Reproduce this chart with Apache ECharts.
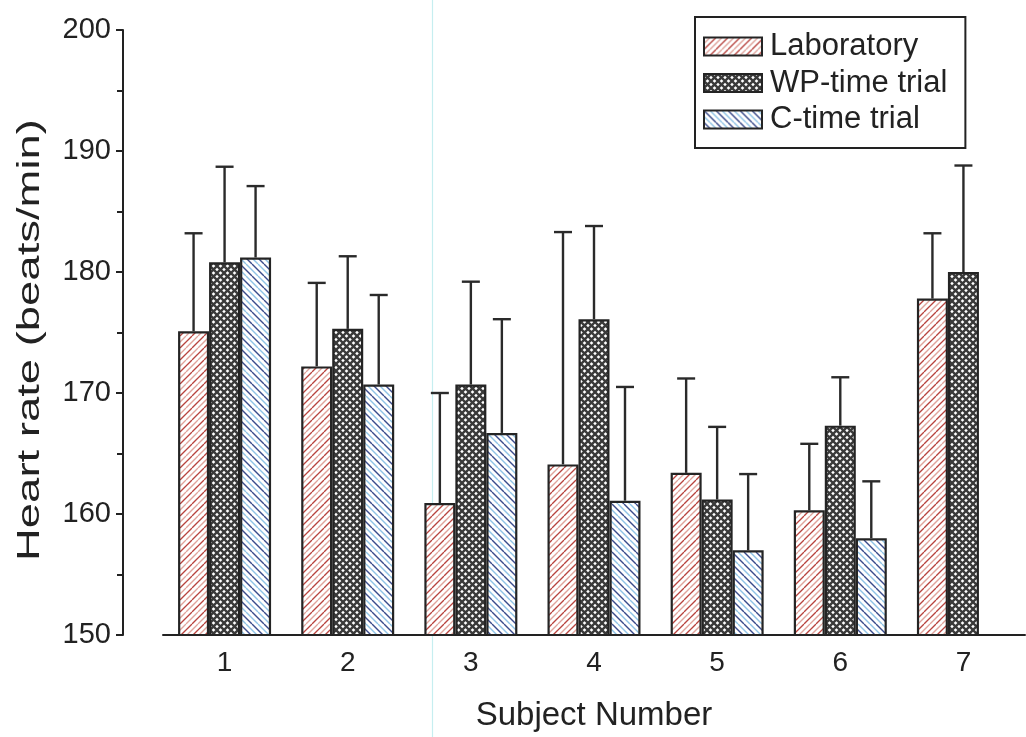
<!DOCTYPE html>
<html>
<head>
<meta charset="utf-8">
<script src="https://cdn.jsdelivr.net/npm/echarts@6/dist/echarts.min.js"></script>
<style>
  html, body { margin: 0; padding: 0; background: #ffffff; }
  #chart { width: 1026px; height: 737px; }
</style>
</head>
<body>
<div id="chart"></div>
<script>
// Subjects and mean heart rate (beats/min) with upper end of the SD whisker
const categories = ['1', '2', '3', '4', '5', '6', '7'];
const seriesNames = ['Laboratory', 'WP-time trial', 'C-time trial'];
const labMean  = [175.1, 172.2, 160.9, 164.1, 163.4, 160.3, 177.8];
const labUpper = [183.2, 179.1, 170.0, 183.3, 171.2, 165.8, 183.2];
const wpMean   = [180.8, 175.3, 170.7, 176.1, 161.2, 167.3, 180.0];
const wpUpper  = [188.7, 181.3, 179.2, 183.8, 167.2, 171.3, 188.8];
const cMean    = [181.2, 170.7, 166.7, 161.1, 157.0, 158.0, null];
const cUpper   = [187.1, 178.1, 176.1, 170.5, 163.3, 162.7, null];
const yTitle = 'Heart rate (beats/min)';
const xTitle = 'Subject Number';

const FONT = '"Liberation Sans", Arial, sans-serif';
const INK = '#222222';
const BAR_W = 31;

// Hatch fills drawn on small tiles
function diagonalTile(colors, spacing, dir, lw) {
  const s = spacing * colors.length;
  const c = document.createElement('canvas');
  c.width = s; c.height = s;
  const g = c.getContext('2d');
  g.fillStyle = '#ffffff';
  g.fillRect(0, 0, s, s);
  g.lineWidth = lw;
  colors.forEach((col, i) => {
    g.strokeStyle = col;
    for (let k = -2; k <= 2; k++) {
      const o = k * s + i * spacing;
      g.beginPath();
      if (dir === '/') { g.moveTo(o, s); g.lineTo(o + s, 0); }
      else { g.moveTo(o, 0); g.lineTo(o + s, s); }
      g.stroke();
    }
  });
  return c;
}
function crossTile(size, col, lw) {
  const c = document.createElement('canvas');
  c.width = size; c.height = size;
  const g = c.getContext('2d');
  g.fillStyle = '#ffffff';
  g.fillRect(0, 0, size, size);
  g.strokeStyle = col;
  g.lineWidth = lw;
  for (let k = -1; k <= 1; k++) {
    g.beginPath(); g.moveTo(k * size, size); g.lineTo(k * size + size, 0); g.stroke();
    g.beginPath(); g.moveTo(k * size, 0); g.lineTo(k * size + size, size); g.stroke();
  }
  return c;
}

const fills = [
  { image: diagonalTile(['#b8443f', '#e0a49c'], 6, '/', 1.3), repeat: 'repeat' },
  { image: crossTile(7, '#3a3a3a', 2.4), repeat: 'repeat' },
  { image: diagonalTile(['#3a4c8c', '#8fc3e6'], 6, '\\', 1.4), repeat: 'repeat' }
];

const means = [labMean, wpMean, cMean];
const uppers = [labUpper, wpUpper, cUpper];

const barSeries = means.map((vals, i) => ({
  name: seriesNames[i],
  type: 'bar',
  data: vals,
  barWidth: BAR_W,
  barGap: '0%',
  itemStyle: { color: fills[i], borderColor: '#242424', borderWidth: 2.2 },
  emphasis: { disabled: true },
  z: 2
}));

// SD whiskers placed over each bar of a group
const errorSeries = means.map((vals, i) => ({
  type: 'custom',
  name: 'sd-' + i,
  silent: true,
  z: 1,
  data: vals.map((m, j) => [j, m, uppers[i][j]]),
  encode: { x: 0, y: [1, 2] },
  renderItem: function (params, api) {
    const m = api.value(1);
    const u = api.value(2);
    if (m == null || u == null || isNaN(m) || isNaN(u)) return null;
    const base = api.coord([api.value(0), m]);
    const top = api.coord([api.value(0), u]);
    const x = base[0] + (i - 1) * BAR_W;
    const half = 9;
    const style = { stroke: '#2a2a2a', lineWidth: 2.4 };
    return {
      type: 'group',
      children: [
        { type: 'line', shape: { x1: x, y1: base[1], x2: x, y2: top[1] }, style: style },
        { type: 'line', shape: { x1: x - half, y1: top[1], x2: x + half, y2: top[1] }, style: style }
      ]
    };
  }
}));

const chart = echarts.init(document.getElementById('chart'), null, { renderer: 'canvas' });
chart.setOption({
  backgroundColor: '#ffffff',
  animation: false,
  textStyle: { fontFamily: FONT, color: INK },
  grid: { left: 163, right: 1, top: 30, bottom: 98 },
  legend: {
    data: seriesNames,
    orient: 'vertical',
    left: 695,
    top: 17,
    padding: [14, 18, 13, 8],
    itemWidth: 58,
    itemHeight: 18,
    itemGap: 5.5,
    icon: 'rect',
    borderColor: INK,
    borderWidth: 2,
    backgroundColor: '#ffffff',
    selectedMode: false,
    textStyle: { fontFamily: FONT, fontSize: 31, color: INK, padding: [0, 0, 0, 3] }
  },
  xAxis: {
    type: 'category',
    data: categories,
    name: xTitle,
    nameLocation: 'middle',
    nameGap: 64,
    nameTextStyle: { fontFamily: FONT, fontSize: 33, color: INK },
    axisLine: { lineStyle: { color: INK, width: 2 } },
    axisTick: { show: false },
    axisLabel: { fontFamily: FONT, fontSize: 28, color: INK, margin: 14 }
  },
  yAxis: {
    type: 'value',
    min: 150,
    max: 200,
    interval: 10,
    offset: 40,
    axisLine: { show: true, lineStyle: { color: INK, width: 2 } },
    axisTick: { show: true, inside: false, length: 7, lineStyle: { color: INK, width: 2 } },
    minorTick: { show: true, splitNumber: 2, length: 6, lineStyle: { color: INK, width: 2 } },
    splitLine: { show: false },
    axisLabel: { fontFamily: FONT, fontSize: 29, color: INK, margin: 12 }
  },
  graphic: [
    {
      type: 'line',
      silent: true,
      z: -1,
      shape: { x1: 432.5, y1: 0, x2: 432.5, y2: 737 },
      style: { stroke: '#c6eef0', lineWidth: 1.2 }
    },
    {
      // vertical axis title, drawn bottom-to-top
      type: 'text',
      silent: true,
      x: 30,
      y: 340,
      rotation: Math.PI / 2,
      scaleX: 1.42,
      style: {
        text: yTitle,
        font: '32px "Liberation Sans", Arial, sans-serif',
        fill: INK,
        align: 'center',
        verticalAlign: 'middle'
      }
    }
  ],
  series: barSeries.concat(errorSeries)
});
</script>
</body>
</html>
